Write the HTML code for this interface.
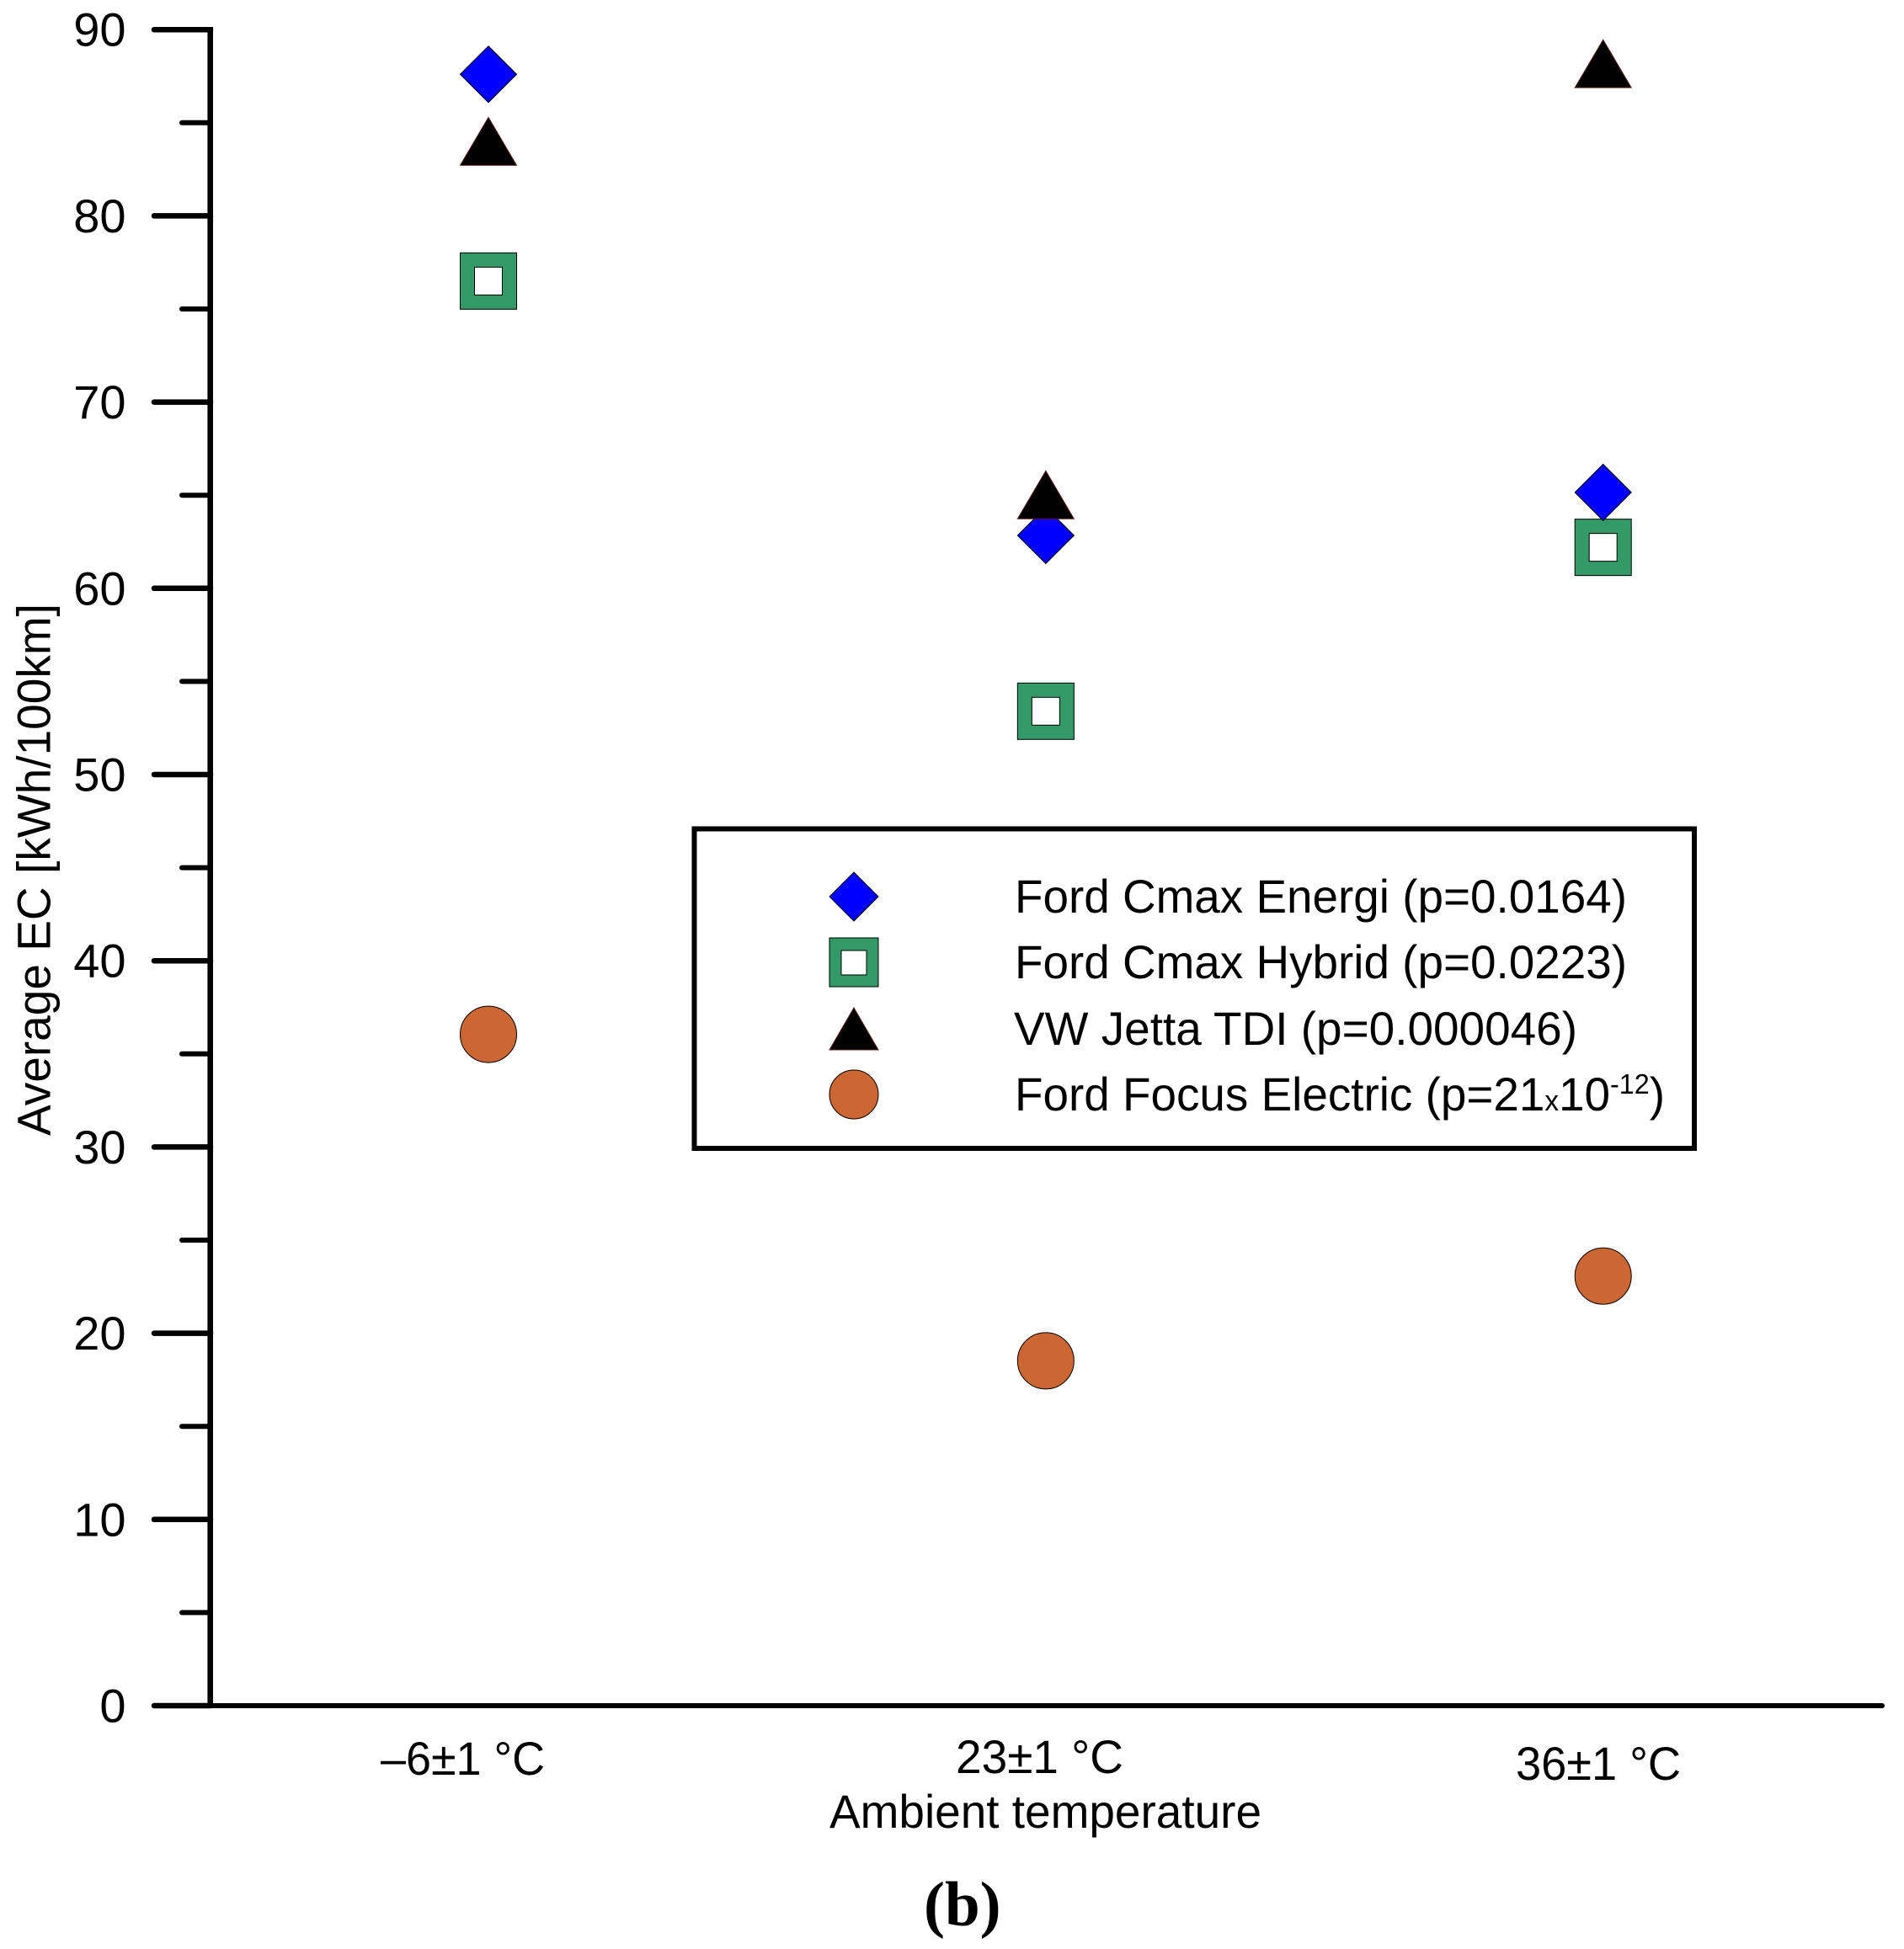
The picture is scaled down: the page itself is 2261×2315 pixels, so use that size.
<!DOCTYPE html>
<html lang="en">
<head>
<meta charset="utf-8">
<title>Average EC by ambient temperature</title>
<style>
html,body{margin:0;padding:0;background:#fff;width:2261px;height:2315px;overflow:hidden}
svg{display:block}
text{font-family:"Liberation Sans",sans-serif;fill:#000}
</style>
</head>
<body>
<svg id="chart" xmlns="http://www.w3.org/2000/svg" width="2261" height="2315" viewBox="0 0 2261 2315">
  <g id="axes">
    <line x1="249.7" y1="32" x2="249.7" y2="2026" stroke="#000" stroke-width="6.6"/>
    <line x1="183" y1="2026" x2="2235" y2="2026" stroke="#000" stroke-width="6" stroke-linecap="round"/>
  </g>
  <g id="y-ticks"></g>
  <text transform="translate(59.5 1349) rotate(-90)" font-size="56" textLength="632" lengthAdjust="spacingAndGlyphs">Average EC [kWh/100km]</text>
  <text x="452" y="2108" font-size="56" textLength="195" lengthAdjust="spacingAndGlyphs">–6±1 °C</text>
  <text x="1135" y="2106" font-size="56" textLength="199" lengthAdjust="spacingAndGlyphs">23±1 °C</text>
  <text x="1800" y="2114" font-size="56" textLength="196" lengthAdjust="spacingAndGlyphs">36±1 °C</text>
  <text x="985" y="2171" font-size="56" textLength="513" lengthAdjust="spacingAndGlyphs">Ambient temperature</text>
  <text x="1097" y="2287" font-size="75" font-weight="bold" style="font-family:'Liberation Serif',serif">(b)</text>
  <g id="marks"></g>
  <g id="legend">
    <rect x="824.5" y="984.5" width="1187.5" height="379.5" fill="#fff" stroke="#000" stroke-width="6"/>
    <polygon points="1014,1036 1043,1065 1014,1094 985,1065" fill="#0000ff" stroke="#000" stroke-width="1"/>
    <rect x="985" y="1114" width="58" height="58" fill="#339966" stroke="#000" stroke-width="1"/>
    <rect x="999" y="1129" width="30" height="29" fill="#fff" stroke="#000" stroke-width="1"/>
    <polygon points="1014,1197 1043,1247 985,1247" fill="#000" stroke="#5a2020" stroke-width="1"/>
    <circle cx="1014" cy="1300" r="29" fill="#cc6633" stroke="#000" stroke-width="1"/>
    <text x="1205" y="1084" font-size="56" textLength="727" lengthAdjust="spacingAndGlyphs">Ford Cmax Energi (p=0.0164)</text>
    <text x="1205" y="1162" font-size="56" textLength="727" lengthAdjust="spacingAndGlyphs">Ford Cmax Hybrid (p=0.0223)</text>
    <text x="1204" y="1241" font-size="56" textLength="669" lengthAdjust="spacingAndGlyphs">VW Jetta TDI (p=0.000046)</text>
    <text x="1205" y="1319" font-size="56" textLength="772" lengthAdjust="spacingAndGlyphs">Ford Focus Electric (p=21<tspan font-size="34">x</tspan>10<tspan font-size="33" dy="-20">-12</tspan><tspan dy="20">)</tspan></text>
  </g>
</svg>
<script>
const categories = ['-6±1 °C', '23±1 °C', '36±1 °C'];
const yTickLabels = [0, 10, 20, 30, 40, 50, 60, 70, 80, 90];
const yMinorTicks = [5, 15, 25, 35, 45, 55, 65, 75, 85];
const cmaxEnergi = [87.6, 62.84, 65.15];
const cmaxHybrid = [76.5, 53.4, 62.2];
const jettaTdi = [84.0, 65.02, 88.17];
const focusElectric = [36.05, 18.52, 23.07];

const SVG_NS = 'http://www.w3.org/2000/svg';
const yZero = 2026, yPerUnit = 22.12;
const xStart = 580, xStep = 661.85;
function yScale(v) { return yZero - v * yPerUnit; }
function xScale(i) { return xStart + i * xStep; }
function make(tag, attrs) {
  const el = document.createElementNS(SVG_NS, tag);
  for (const k in attrs) el.setAttribute(k, attrs[k]);
  return el;
}

const tickGroup = document.getElementById('y-ticks');
yTickLabels.forEach(function (v) {
  const y = yScale(v);
  const tick = make('line', { x1: 183, y1: y, x2: 250, y2: y, stroke: '#000', 'stroke-width': 6.5, 'stroke-linecap': 'round' });
  
  
  tickGroup.appendChild(tick);
  const label = make('text', { x: 149.5, y: y + 19.5, 'font-size': 56, 'text-anchor': 'end' });
  label.textContent = String(v);
  
  
  tickGroup.appendChild(label);
});
yMinorTicks.forEach(function (v) {
  const y = yScale(v);
  const tick = make('line', { x1: 216, y1: y, x2: 250, y2: y, stroke: '#000', 'stroke-width': 6, 'stroke-linecap': 'round' });
  
  
  tickGroup.appendChild(tick);
});

const marks = document.getElementById('marks');
const R = 33.5;
categories.forEach(function (cat, i) {
  const x = xScale(i);

  const yc = yScale(focusElectric[i]);
  const circle = make('circle', { cx: x, cy: yc, r: R, fill: '#cc6633', stroke: '#000', 'stroke-width': 1 });
  
  
  marks.appendChild(circle);

  const ys = yScale(cmaxHybrid[i]);
  const square = make('rect', { x: x - R, y: ys - R, width: 2 * R, height: 2 * R, fill: '#339966', stroke: '#000', 'stroke-width': 1 });
  
  
  marks.appendChild(square);
  const hole = make('rect', { x: x - 16.5, y: ys - 16.5, width: 33, height: 33, fill: '#fff', stroke: '#000', 'stroke-width': 1 });
  
  
  marks.appendChild(hole);

  const yd = yScale(cmaxEnergi[i]);
  const diamond = make('polygon', { points: [x, yd - R, x + R, yd, x, yd + R, x - R, yd].join(' '), fill: '#0000ff', stroke: '#000', 'stroke-width': 1 });
  
  
  marks.appendChild(diamond);

  const yt = yScale(jettaTdi[i]);
  const tri = make('polygon', { points: [x, yt - 28.5, x + R, yt + 28.5, x - R, yt + 28.5].join(' '), fill: '#000', stroke: '#5a2020', 'stroke-width': 1 });
  
  
  marks.appendChild(tri);
});
</script>
</body>
</html>
